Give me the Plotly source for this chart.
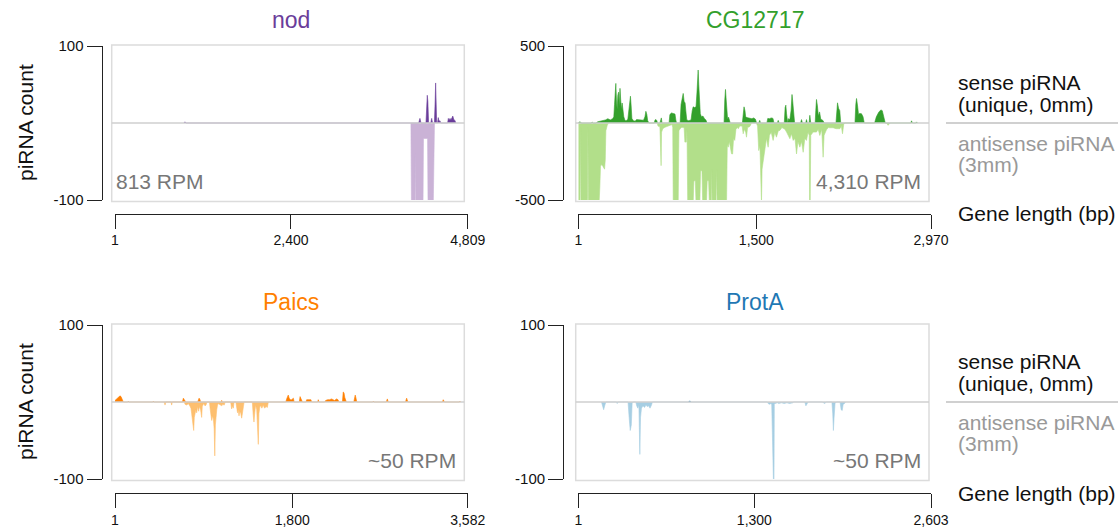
import plotly.graph_objects as go

# ---------------- data (gene position bp, piRNA count) ----------------
nod_sense = [(940, 0), (955, 1.5), (970, 0),
             (4140, 0), (4158, 6), (4172, 0),
             (4240, 0), (4252, 25), (4258, 36), (4266, 28), (4276, 0),
             (4305, 0), (4318, 6), (4330, 0),
             (4355, 0), (4366, 30), (4372, 52), (4378, 30), (4386, 0),
             (4398, 0), (4408, 7), (4418, 2), (4431, 3), (4442, 0),
             (4535, 0), (4545, 6), (4556, 4), (4568, 6), (4580, 4), (4596, 7), (4606, 9),
             (4618, 5), (4636, 3), (4648, 0)]
nod_anti = [(4035, 0), (4044, -130), (4088, -130), (4095, -40), (4102, -130), (4198, -130),
            (4206, -20), (4262, -20), (4270, -130), (4336, -130), (4348, -60), (4356, 0)]

cg_sense = [(1, 0), (8, 7), (20, 5), (30, 0),
            (108, 0), (118, 5), (128, 0),
            (150, 0), (165, 8), (200, 12), (230, 20), (250, 28), (270, 20), (290, 28), (300, 40),
            (306, 120), (312, 240), (317, 257), (322, 150), (328, 90), (334, 180), (340, 200),
            (346, 110), (352, 225), (358, 150), (364, 90), (370, 130), (378, 80), (384, 40),
            (395, 15), (407, 17),
            (418, 25), (426, 100), (434, 160), (440, 174), (446, 110), (452, 30), (465, 15), (480, 12),
            (491, 22), (510, 22), (530, 20), (550, 18), (562, 40), (570, 76), (578, 55), (585, 15), (596, 0),
            (640, 0), (647, 20), (655, 22), (662, 15), (668, 0),
            (688, 0), (694, 30), (700, 33), (706, 0),
            (765, 0), (772, 55), (785, 65), (800, 62), (815, 58), (822, 20), (828, 0),
            (858, 0), (866, 120), (876, 160), (884, 192), (892, 140), (900, 130), (906, 80), (914, 20),
            (930, 15), (950, 20), (960, 80), (968, 105), (980, 100), (992, 105), (1000, 200),
            (1006, 300), (1010, 344), (1015, 250), (1020, 150), (1028, 60), (1038, 40), (1050, 45),
            (1062, 30), (1075, 20), (1085, 0),
            (1228, 0), (1234, 150), (1240, 218), (1246, 150), (1252, 60), (1258, 25), (1266, 38),
            (1274, 10), (1280, 0),
            (1382, 0), (1388, 70), (1396, 105), (1404, 80), (1410, 40), (1420, 35), (1432, 33),
            (1448, 35), (1462, 28), (1478, 33), (1492, 25), (1502, 0),
            (1520, 0), (1528, 17), (1536, 0),
            (1588, 0), (1596, 30), (1610, 28), (1625, 33), (1640, 30), (1648, 0),
            (1676, 0), (1684, 17), (1692, 0),
            (1735, 0), (1742, 100), (1748, 116), (1754, 60), (1760, 0),
            (1764, 0), (1770, 28), (1782, 22), (1792, 80), (1800, 185), (1806, 140), (1814, 55), (1822, 0),
            (1872, 0), (1880, 22), (1888, 0),
            (1915, 0), (1922, 22), (1929, 0),
            (1944, 0), (1950, 50), (1958, 0),
            (1995, 0), (2000, 80), (2006, 153), (2014, 110), (2022, 45), (2032, 72), (2042, 25),
            (2060, 17), (2072, 0),
            (2170, 0), (2176, 100), (2183, 131), (2192, 95), (2202, 80), (2210, 0),
            (2330, 0), (2337, 120), (2343, 159), (2352, 110), (2360, 55), (2368, 62), (2385, 60),
            (2398, 40), (2408, 0),
            (2495, 0), (2510, 40), (2530, 70), (2548, 85), (2560, 80), (2572, 45), (2585, 0),
            (2800, 0), (2806, 14), (2814, 0),
            (2842, 0), (2848, 7), (2856, 0)]
cg_anti = [(1, -520), (16, -520), (20, -30), (24, -520), (78, -520), (82, -30), (86, -520),
           (176, -520), (182, -420), (188, -280), (200, -270), (212, -285), (222, -300), (228, -240),
           (233, -50), (245, -15), (255, 0),
           (665, 0), (672, -20), (688, -25), (694, -180), (698, -277), (702, -60), (712, -37),
           (730, -28), (750, -22), (772, -15), (790, -10),
           (796, -30), (800, -520), (842, -520), (848, -50), (858, -37), (872, -28), (892, -30),
           (898, -124), (910, -124), (916, -40),
           (922, -520), (968, -520), (974, -375), (986, -375), (992, -520), (1024, -520), (1030, -310),
           (1042, -310), (1048, -520), (1080, -520), (1086, -375), (1098, -375), (1104, -520),
           (1120, -520), (1124, -300), (1128, -520), (1160, -520), (1165, -300), (1170, -520), (1249, -520),
           (1255, -140), (1263, -157), (1272, -120), (1282, -180), (1291, -200), (1300, -201),
           (1308, -100), (1318, -113), (1328, -40), (1340, -30), (1348, -37), (1360, -20), (1380, -20),
           (1389, -70), (1398, -40), (1410, -60), (1417, -92), (1426, -30), (1445, -22), (1460, 0),
           (1500, 0), (1510, -20), (1520, -179), (1530, -150), (1538, -300), (1543, -520), (1548, -300),
           (1556, -250), (1566, -200), (1575, -160), (1585, -100), (1599, -157), (1610, -80),
           (1625, -60), (1641, -113), (1655, -60), (1669, -92), (1685, -50), (1698, -48), (1715, -30),
           (1740, -40), (1754, -59), (1768, -80), (1782, -102), (1795, -70), (1810, -113), (1825, -100),
           (1838, -201), (1850, -120), (1866, -157), (1880, -120), (1894, -190), (1908, -100),
           (1922, -113), (1935, -60), (1945, -80), (1948, -520), (1953, -520), (1958, -80), (1978, -59),
           (2006, -59), (2020, -40), (2034, -81), (2050, -40), (2062, -222), (2070, -80), (2090, -44),
           (2105, -30), (2118, -31), (2146, -31), (2170, -37), (2203, -37), (2215, -20), (2225, -70),
           (2235, -10), (2245, 0),
           (2595, 0), (2609, -15), (2625, 0)]

paics_sense = [(1, 2), (20, 4), (40, 6), (52, 8), (62, 7), (75, 3), (86, 0),
               (130, 0), (136, 1), (142, 0),
               (385, 0), (390, 1), (395, 0),
               (685, 0), (695, 5), (705, 3), (712, 1), (720, 0),
               (840, 0), (847, 3), (855, 5), (864, 3), (870, 0),
               (1078, 0), (1084, 2), (1092, 0),
               (1735, 0), (1744, 4), (1752, 7), (1760, 9), (1770, 5), (1780, 3), (1795, 3), (1805, 4),
               (1812, 5), (1820, 0),
               (1872, 0), (1880, 7), (1888, 5), (1896, 4), (1904, 0),
               (1940, 0), (1947, 3), (1960, 3), (1975, 3), (1990, 3), (1998, 0),
               (2058, 0), (2065, 3), (2072, 0),
               (2130, 0), (2140, 2), (2160, 3), (2180, 3), (2200, 4), (2215, 3), (2230, 2), (2250, 4),
               (2265, 3), (2275, 0),
               (2310, 0), (2318, 13), (2326, 12), (2334, 6), (2342, 4), (2350, 0),
               (2425, 0), (2433, 7), (2440, 9), (2448, 5), (2456, 0),
               (2618, 0), (2624, 1), (2630, 0),
               (2755, 0), (2766, 4), (2775, 0),
               (2950, 0), (2962, 5), (2975, 0),
               (3325, 0), (3334, 3), (3345, 0),
               (3497, 0), (3503, 1), (3510, 0)]
paics_anti = [(500, 0), (509, -4), (518, 0),
              (570, 0), (576, -4), (583, 0),
              (705, 0), (712, -3), (730, -4), (745, -2), (760, -5), (772, -8), (779, -15), (790, -30),
              (800, -37), (806, -20), (813, -16), (822, -10), (830, -14), (840, -6), (850, -12),
              (858, -6), (870, -10), (876, -16), (881, -20), (887, -6), (900, -2), (915, -5), (925, -4),
              (935, 0),
              (960, 0), (968, -10), (976, -16), (983, -24), (992, -18), (1000, -22), (1008, -35),
              (1014, -70), (1020, -30), (1026, -14), (1034, -10), (1042, -4), (1050, -2), (1060, -3),
              (1075, -5), (1085, -5), (1095, -3), (1110, -4), (1120, 0),
              (1175, 0), (1185, -9), (1195, -5), (1202, -8), (1210, 0),
              (1228, 0), (1236, -10), (1245, -14), (1252, -10), (1260, -18), (1268, -12), (1278, -15),
              (1287, -21), (1295, -10), (1305, -6), (1312, 0),
              (1395, 0), (1405, -18), (1412, -26), (1420, -14), (1428, -4), (1440, -10), (1450, -40),
              (1456, -55), (1462, -15), (1472, -6), (1482, -5), (1492, -8), (1505, -4), (1520, -8),
              (1535, -6), (1548, -7), (1558, 0)]

prota_sense = [(815, 0), (823, 1.5), (831, 0)]
prota_anti = [(172, 0), (180, -6), (188, -10), (197, -4), (205, 0),
              (282, 0), (288, -2), (294, 0),
              (368, 0), (376, -20), (384, -37), (392, -30), (398, -2), (405, 0),
              (425, 0), (432, -5), (440, -8), (448, -4), (452, -40), (455, -68), (460, -20), (467, -8),
              (478, -5), (490, -7), (500, -4), (510, -6), (520, -5), (530, -8), (541, -4), (548, 0),
              (1395, 0), (1402, -2), (1412, -3), (1422, -2), (1428, -3), (1431, -130), (1444, -130),
              (1447, -3), (1452, -2), (1470, -1), (1480, -2), (1500, -1), (1520, -2), (1540, -1),
              (1560, -2), (1584, -1), (1590, 0),
              (1672, 0), (1680, -5), (1690, -2), (1698, 0),
              (1800, 0), (1810, -1), (1820, -2), (1830, 0),
              (1872, 0), (1878, -15), (1883, -37), (1888, -20), (1895, -2), (1905, 0),
              (1932, 0), (1940, -10), (1948, -11), (1955, -3), (1965, -2), (1972, 0)]

genes = ["nod", "CG12717", "Paics", "ProtA"]
gene_lengths = [4809, 2970, 3582, 2603]
x_tickvals = [[1, 2400, 4809], [1, 1500, 2970], [1, 1800, 3582], [1, 1300, 2603]]
x_ticktext = [["1", "2,400", "4,809"], ["1", "1,500", "2,970"], ["1", "1,800", "3,582"], ["1", "1,300", "2,603"]]
y_limits = [100, 500, 100, 100]
y_ticktext = [["-100", "100"], ["-500", "500"], ["-100", "100"], ["-100", "100"]]
rpm_labels = ["813 RPM", "4,310 RPM", "~50 RPM", "~50 RPM"]
sense_colors = ["#6a3d9a", "#33a02c", "#ff7f00", "#1f78b4"]
anti_colors = ["#cab2d6", "#b2df8a", "#fdbf6f", "#a6cee3"]
sense_data = [nod_sense, cg_sense, paics_sense, prota_sense]
anti_data = [nod_anti, cg_anti, paics_anti, prota_anti]

# ---------------- layout geometry (pixels) ----------------
W, H = 1118, 527
FONT = "Liberation Sans, Arial, Helvetica, sans-serif"


def fx(x):
    return x / W


def fy(y):
    return 1 - y / H


cols = [dict(xax=(115, 467.7), ypos=101.7, box=(111.7, 464.3)),
        dict(xax=(578.3, 931), ypos=563.3, box=(575.7, 929))]
rows = [dict(ydom=(46, 200), xpos=213.5, box=(45, 201.5), title=20, rpm=181.7),
        dict(ydom=(325, 479), xpos=492.7, box=(324, 480.5), title=302, rpm=460.7)]

fig = go.Figure()
shapes = []
annotations = []
layout = {}

for i, g in enumerate(genes):
    c = cols[i % 2]
    r = rows[i // 2]
    n = "" if i == 0 else str(i + 1)
    xa, ya = "x" + n, "y" + n

    sx, sy = zip(*sense_data[i])
    ax_, ay_ = zip(*anti_data[i])
    fig.add_trace(go.Scatter(x=list(ax_), y=list(ay_), mode="lines", fill="tozeroy",
                             line=dict(color=anti_colors[i], width=0.6),
                             fillcolor=anti_colors[i], xaxis=xa, yaxis=ya,
                             hoverinfo="skip", showlegend=False))
    fig.add_trace(go.Scatter(x=list(sx), y=list(sy), mode="lines", fill="tozeroy",
                             line=dict(color=sense_colors[i], width=0.6),
                             fillcolor=sense_colors[i], xaxis=xa, yaxis=ya,
                             hoverinfo="skip", showlegend=False))

    layout["xaxis" + n] = dict(
        domain=[fx(c["xax"][0]), fx(c["xax"][1])], range=[1, gene_lengths[i]],
        anchor="free", position=fy(r["xpos"]), showline=True, linecolor="#222",
        linewidth=1.3, ticks="outside", ticklen=14, tickwidth=1.3, tickcolor="#222",
        tickvals=x_tickvals[i], ticktext=x_ticktext[i], tickfont=dict(size=14, color="#111"),
        showgrid=False, zeroline=False, fixedrange=True, automargin=False)
    layout["yaxis" + n] = dict(
        domain=[fy(r["ydom"][1]), fy(r["ydom"][0])], range=[-y_limits[i], y_limits[i]],
        anchor="free", position=fx(c["ypos"]), side="left", showline=True, linecolor="#222",
        linewidth=1.3, ticks="outside", ticklen=15, tickwidth=1.3, tickcolor="#222",
        tickvals=[-y_limits[i], y_limits[i]], ticktext=y_ticktext[i],
        tickfont=dict(size=15, color="#111"),
        showgrid=False, zeroline=False, fixedrange=True, automargin=False)

    # plot frame
    shapes.append(dict(type="rect", xref="paper", yref="paper",
                       x0=fx(c["box"][0]), x1=fx(c["box"][1]),
                       y0=fy(r["box"][1]), y1=fy(r["box"][0]),
                       line=dict(color="#dcdcdc", width=1.5), layer="below"))
    # zero baseline
    shapes.append(dict(type="line", xref="paper", yref=ya,
                       x0=fx(c["box"][0]), x1=fx(c["box"][1]), y0=0, y1=0,
                       line=dict(color="#cfcfcf", width=1.5), layer="above"))
    # title
    annotations.append(dict(text=g, xref="paper", yref="paper",
                            x=fx((c["xax"][0] + c["xax"][1]) / 2), y=fy(r["title"]),
                            xanchor="center", yanchor="middle", showarrow=False,
                            font=dict(size=23, color=sense_colors[i], family=FONT)))
    # RPM label
    if i == 0:
        annotations.append(dict(text=rpm_labels[i], xref="paper", yref="paper",
                                x=fx(114), y=fy(r["rpm"]), xanchor="left", yanchor="middle",
                                showarrow=False, font=dict(size=21, color="#777", family=FONT)))
    else:
        right = 457.7 if i == 2 else 923.3
        annotations.append(dict(text=rpm_labels[i], xref="paper", yref="paper",
                                x=fx(right), y=fy(r["rpm"]), xanchor="right", yanchor="middle",
                                showarrow=False, font=dict(size=21, color="#777", family=FONT)))

for k, r in enumerate(rows):
    off = 0 if k == 0 else 279
    annotations.append(dict(text="piRNA count", xref="paper", yref="paper",
                            x=fx(25), y=fy(123 + off), textangle=-90,
                            xanchor="center", yanchor="middle", showarrow=False,
                            font=dict(size=21, color="#111", family=FONT)))
    legend_lines = [("sense piRNA", 82, "#111"), ("(unique, 0mm)", 104, "#111"),
                    ("antisense piRNA", 143, "#999"), ("(3mm)", 164, "#999"),
                    ("Gene length (bp)", 214, "#111")]
    for txt, yy, col in legend_lines:
        annotations.append(dict(text=txt, xref="paper", yref="paper",
                                x=fx(956), y=fy(yy + off), xanchor="left", yanchor="middle",
                                showarrow=False, font=dict(size=21, color=col, family=FONT)))
    shapes.append(dict(type="line", xref="paper", yref="paper",
                       x0=fx(946), x1=fx(1118), y0=fy(123 + off), y1=fy(123 + off),
                       line=dict(color="#d0d0d0", width=2)))

fig.update_layout(
    width=W, height=H, margin=dict(l=0, r=0, t=0, b=0),
    paper_bgcolor="white", plot_bgcolor="rgba(0,0,0,0)",
    font=dict(family=FONT, color="#111"),
    shapes=shapes, annotations=annotations, showlegend=False, **layout)

fig.write_html("out.html")
